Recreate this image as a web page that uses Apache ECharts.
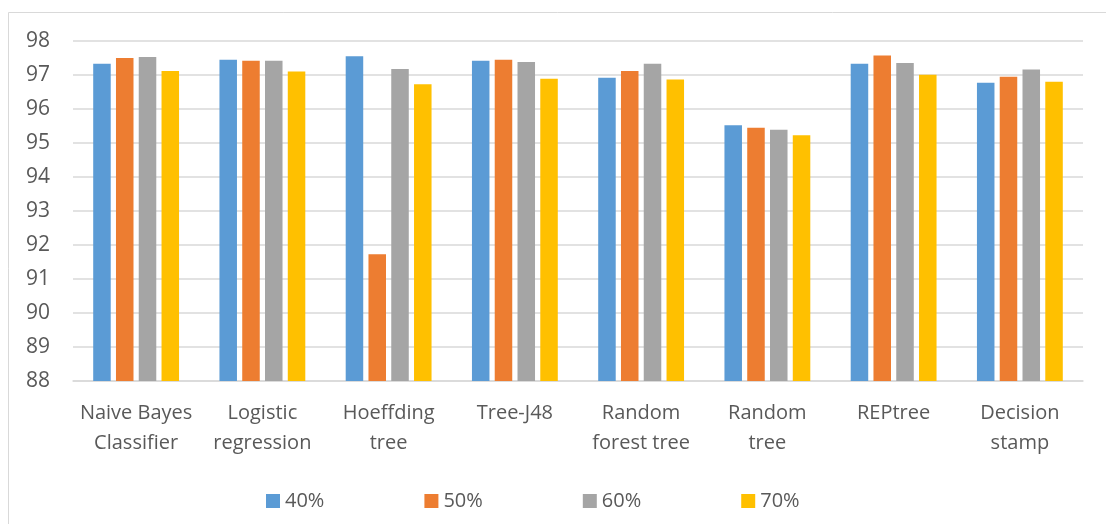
<!DOCTYPE html>
<html>
<head>
<meta charset="utf-8">
<script src="https://cdn.jsdelivr.net/npm/echarts@6/dist/echarts.min.js"></script>
<style>
  html, body { margin: 0; padding: 0; background: #ffffff; }
  #chart { width: 1106px; height: 524px; }
</style>
</head>
<body>
<div id="chart"></div>
<script>
// Classifier accuracy (%) for each training split
const categories = [
  'Naive Bayes\nClassifier', 'Logistic\nregression', 'Hoeffding\ntree', 'Tree-J48',
  'Random\nforest tree', 'Random\ntree', 'REPtree', 'Decision\nstamp'
];
const seriesNames = ['40%', '50%', '60%', '70%'];
const values40 = [97.33, 97.45, 97.55, 97.42, 96.92, 95.52, 97.33, 96.77];
const values50 = [97.50, 97.42, 91.73, 97.45, 97.12, 95.45, 97.57, 96.95];
const values60 = [97.53, 97.42, 97.18, 97.38, 97.33, 95.39, 97.35, 97.16];
const values70 = [97.12, 97.10, 96.73, 96.89, 96.87, 95.23, 97.01, 96.80];
const yTicks = { min: 88, max: 98, interval: 1 };

const colors = ['#5B9BD5', '#ED7D31', '#A5A5A5', '#FFC000'];
const allValues = [values40, values50, values60, values70];
const fontFamily = '"Open Sans", "Noto Sans", sans-serif';

const chart = echarts.init(document.getElementById('chart'), null, { renderer: 'canvas' });
chart.setOption({
  animation: false,
  backgroundColor: '#ffffff',
  graphic: [{
    type: 'rect',
    shape: { x: 8.5, y: 12.5, width: 1200, height: 600 },
    style: { fill: 'none', stroke: '#d9d9d9', lineWidth: 1 },
    silent: true
  }],
  grid: { left: 73, right: 23, top: 41, bottom: 143, containLabel: false },
  legend: {
    data: seriesNames,
    bottom: 8,
    left: 261,
    itemWidth: 14,
    itemHeight: 14,
    itemGap: 100,
    icon: 'rect',
    textStyle: { color: '#595959', fontSize: 20, fontFamily: fontFamily }
  },
  xAxis: {
    type: 'category',
    data: categories,
    axisLine: { show: true, lineStyle: { color: '#d9d9d9', width: 1.5 } },
    axisTick: { show: false },
    axisLabel: {
      color: '#595959', fontSize: 20, fontFamily: fontFamily,
      lineHeight: 30, margin: 17, interval: 0
    }
  },
  yAxis: {
    type: 'value',
    min: yTicks.min,
    max: yTicks.max,
    interval: yTicks.interval,
    axisLine: { show: false },
    axisTick: { show: false },
    splitLine: { lineStyle: { color: '#d9d9d9', width: 1.5 } },
    axisLabel: { color: '#595959', fontSize: 21, fontFamily: fontFamily, margin: 23 }
  },
  series: seriesNames.map((name, i) => ({
    name: name,
    type: 'bar',
    data: allValues[i],
    barGap: '30%',
    barCategoryGap: '32%',
    itemStyle: { color: colors[i] }
  }))
});
</script>
</body>
</html>
